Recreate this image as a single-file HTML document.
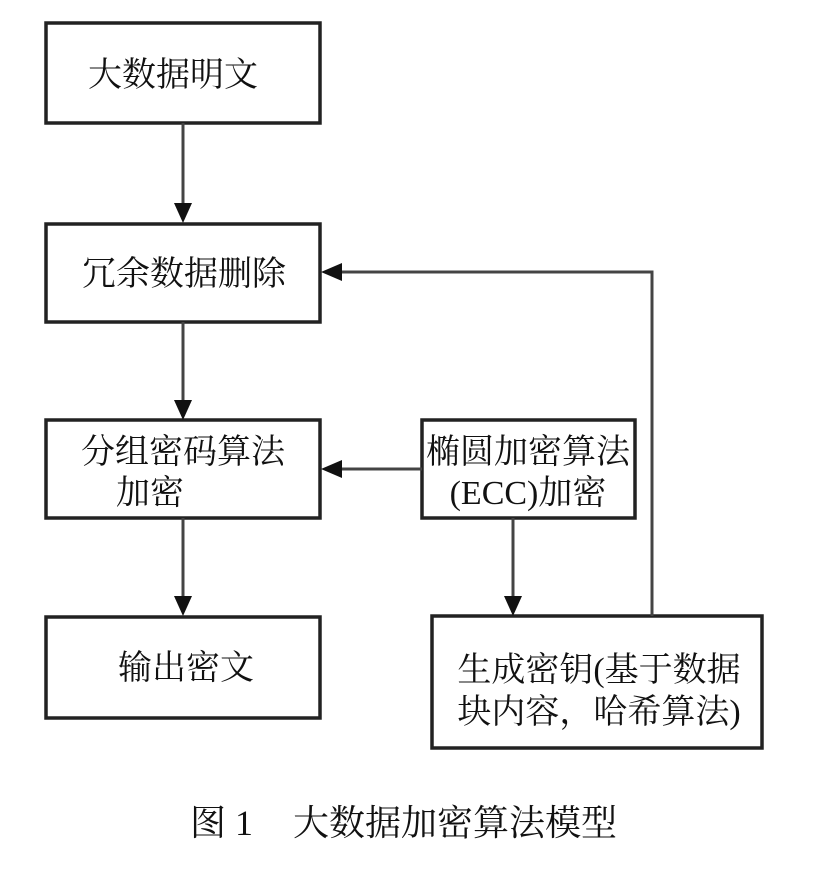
<!DOCTYPE html>
<html><head><meta charset="utf-8"><style>
html,body{margin:0;padding:0;background:#fff;}
svg{display:block;}
text{font-family:"Liberation Serif","Noto Serif CJK SC",serif;font-size:34px;fill:#111;}
</style></head><body>
<svg width="827" height="875" viewBox="0 0 827 875" xmlns="http://www.w3.org/2000/svg">
<g fill="#fff" stroke="#222" stroke-width="3.5">
<rect x="46" y="23" width="274" height="100"/>
<rect x="46" y="224" width="274" height="98"/>
<rect x="46" y="420" width="274" height="98"/>
<rect x="46" y="617" width="274" height="101"/>
<rect x="422" y="420" width="213" height="98"/>
<rect x="432" y="616" width="330" height="132"/>
</g>
<g stroke="#444" stroke-width="3" fill="none">
<line x1="183" y1="123" x2="183" y2="205"/>
<line x1="183" y1="322" x2="183" y2="402"/>
<line x1="183" y1="518" x2="183" y2="598"/>
<line x1="422" y1="469" x2="340" y2="469"/>
<line x1="513" y1="518" x2="513" y2="598"/>
<polyline points="652,616 652,272 340,272"/>
</g>
<g fill="#111">
<polygon points="174,203 192,203 183,223"/>
<polygon points="174,400 192,400 183,420"/>
<polygon points="174,596 192,596 183,616"/>
<polygon points="504,596 522,596 513,616"/>
<polygon points="342,460 342,478 321,469"/>
<polygon points="342,263 342,281 321,272"/>
</g>
<text x="173" y="86" text-anchor="middle">大数据明文</text>
<text x="184" y="285" text-anchor="middle">冗余数据删除</text>
<text x="183" y="463" text-anchor="middle">分组密码算法</text>
<text x="150" y="504" text-anchor="middle">加密</text>
<text x="186" y="679" text-anchor="middle">输出密文</text>
<text x="528" y="463" text-anchor="middle">椭圆加密算法</text>
<text x="528" y="504" text-anchor="middle">(ECC)加密</text>
<text x="599" y="681" text-anchor="middle">生成密钥(基于数据</text>
<text x="599" y="723" text-anchor="middle">块内容，哈希算法)</text>
<text x="190" y="835" style="font-size:36px">图 1</text>
<text x="455" y="835" text-anchor="middle" style="font-size:36px">大数据加密算法模型</text>
</svg>
</body></html>
